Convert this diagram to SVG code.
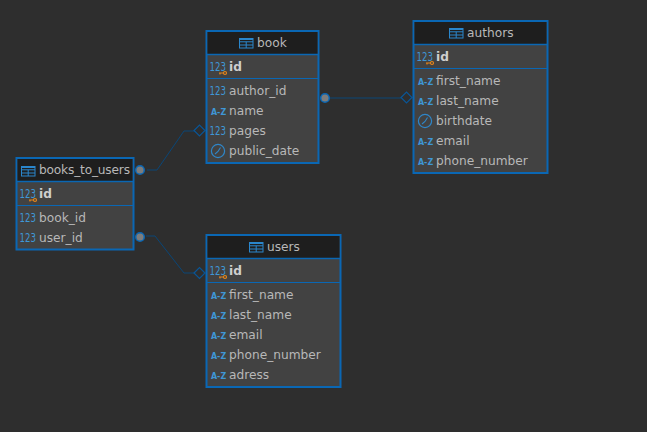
<svg xmlns="http://www.w3.org/2000/svg" width="647" height="432" viewBox="0 0 647 432">
<style>
.box{fill:#424242;stroke:#0a67b4;stroke-width:2}
.head{fill:#1e1e1e}
.hline{stroke:#0a67b4;stroke-width:1.5}
.sep{stroke:#0a67b4;stroke-width:1}
.t{font-family:"DejaVu Sans",sans-serif;font-size:12.2px;fill:#b8b8b8}
.b{font-weight:bold;fill:#cfcfcf}
.n{font-family:"DejaVu Sans",sans-serif;font-size:11.5px;fill:#3f97d6}
.a{font-family:"DejaVu Sans",sans-serif;font-size:9px;font-weight:bold;fill:#3f97d6}
.c{fill:none;stroke:#0a4677;stroke-width:1}
.dot{fill:#7d7d7d;stroke:#0a67b4;stroke-width:1.5}
.dia{fill:none;stroke:#0a5595;stroke-width:1.2}
</style>
<defs>
<g id="tb"><rect x="0.5" y="0.5" width="13.500" height="9.500" fill="none" stroke="#2a86cc" stroke-width="1"/><path d="M0.500 1.500H14M0.500 3.800H14M0.500 7H14M7.200 3.800V10" fill="none" stroke="#2a86cc" stroke-width="1"/></g>
<g id="key"><circle cx="4.500" cy="2" r="1.500" fill="none" stroke="#e8861a" stroke-width="1.200"/><path d="M3 2H-1.500M-0.500 2V3.500" fill="none" stroke="#e8861a" stroke-width="1.100"/></g>
<g id="clk"><circle cx="0" cy="0" r="6.600" fill="none" stroke="#2f86c8" stroke-width="1.200"/><path d="M2.500 -3.500L0 0.500L-3 3" fill="none" stroke="#2f86c8" stroke-width="1.100"/></g>
</defs>
<rect width="647" height="432" fill="#2e2e2e"/>
<g id="connectors">
<path class="c" d="M147 170H157L184 131H195"/>
<path class="c" d="M146 236H155L184 273H195"/>
<path class="c" d="M330 98H401"/>
<path class="dia" d="M194 130.500L199.500 125L205 130.500L199.500 136Z"/>
<path class="dia" d="M194 273L199.500 267.500L205 273L199.500 278.500Z"/>
<path class="dia" d="M401 97.500L406.500 92L412 97.500L406.500 103Z"/>
<circle class="dot" cx="140" cy="170" r="4.300"/>
<circle class="dot" cx="140" cy="237" r="4.300"/>
<circle class="dot" cx="325" cy="98" r="4.300"/>
</g>
<g id="book">
<rect class="box" x="206.500" y="31" width="112" height="132"/>
<rect class="head" x="207.500" y="32" width="110" height="22"/>
<path class="hline" d="M207 54.500H318"/><path class="sep" d="M207 78.500H318"/>
<use href="#tb" x="239" y="38"/>
<text class="t" x="257" y="47">book</text>
<text class="n" transform="translate(209.500 71) scale(.75 1)">123</text><use href="#key" x="220.500" y="71"/>
<text class="t b" x="229" y="71">id</text>
<text class="n" transform="translate(209.500 95) scale(.75 1)">123</text><text class="t" x="229" y="95">author_id</text>
<text class="a" transform="translate(211 115) scale(.88 1)">A-Z</text><text class="t" x="229" y="115">name</text>
<text class="n" transform="translate(209.500 135) scale(.75 1)">123</text><text class="t" x="229" y="135">pages</text>
<use href="#clk" x="218" y="151"/><text class="t" x="229" y="155">public_date</text>
</g>
<g id="authors">
<rect class="box" x="413.500" y="21" width="134" height="152"/>
<rect class="head" x="414.500" y="22" width="132" height="22"/>
<path class="hline" d="M414 44.500H547"/><path class="sep" d="M414 68.500H547"/>
<use href="#tb" x="449" y="28"/>
<text class="t" x="467" y="37">authors</text>
<text class="n" transform="translate(416.500 61) scale(.75 1)">123</text><use href="#key" x="427.500" y="61"/>
<text class="t b" x="436" y="61">id</text>
<text class="a" transform="translate(418 85) scale(.88 1)">A-Z</text><text class="t" x="436" y="85">first_name</text>
<text class="a" transform="translate(418 105) scale(.88 1)">A-Z</text><text class="t" x="436" y="105">last_name</text>
<use href="#clk" x="425" y="121"/><text class="t" x="436" y="125">birthdate</text>
<text class="a" transform="translate(418 145) scale(.88 1)">A-Z</text><text class="t" x="436" y="145">email</text>
<text class="a" transform="translate(418 165) scale(.88 1)">A-Z</text><text class="t" x="436" y="165">phone_number</text>
</g>
<g id="books_to_users">
<rect class="box" x="16.500" y="158" width="117" height="91.500"/>
<rect class="head" x="17.500" y="159" width="115" height="22"/>
<path class="hline" d="M17 181.500H133"/><path class="sep" d="M17 205.500H133"/>
<use href="#tb" x="21" y="166"/>
<text class="t" x="39" y="174" textLength="91">books_to_users</text>
<text class="n" transform="translate(19.500 198) scale(.75 1)">123</text><use href="#key" x="30.500" y="198"/>
<text class="t b" x="39" y="198">id</text>
<text class="n" transform="translate(19.500 222) scale(.75 1)">123</text><text class="t" x="39" y="222">book_id</text>
<text class="n" transform="translate(19.500 242) scale(.75 1)">123</text><text class="t" x="39" y="242">user_id</text>
</g>
<g id="users">
<rect class="box" x="206.500" y="235" width="134" height="152"/>
<rect class="head" x="207.500" y="236" width="132" height="22"/>
<path class="hline" d="M207 258.500H340"/><path class="sep" d="M207 282.500H340"/>
<use href="#tb" x="249" y="242"/>
<text class="t" x="267" y="251">users</text>
<text class="n" transform="translate(209.500 275) scale(.75 1)">123</text><use href="#key" x="220.500" y="275"/>
<text class="t b" x="229" y="275">id</text>
<text class="a" transform="translate(211 299) scale(.88 1)">A-Z</text><text class="t" x="229" y="299">first_name</text>
<text class="a" transform="translate(211 319) scale(.88 1)">A-Z</text><text class="t" x="229" y="319">last_name</text>
<text class="a" transform="translate(211 339) scale(.88 1)">A-Z</text><text class="t" x="229" y="339">email</text>
<text class="a" transform="translate(211 359) scale(.88 1)">A-Z</text><text class="t" x="229" y="359">phone_number</text>
<text class="a" transform="translate(211 379) scale(.88 1)">A-Z</text><text class="t" x="229" y="379">adress</text>
</g>
</svg>
